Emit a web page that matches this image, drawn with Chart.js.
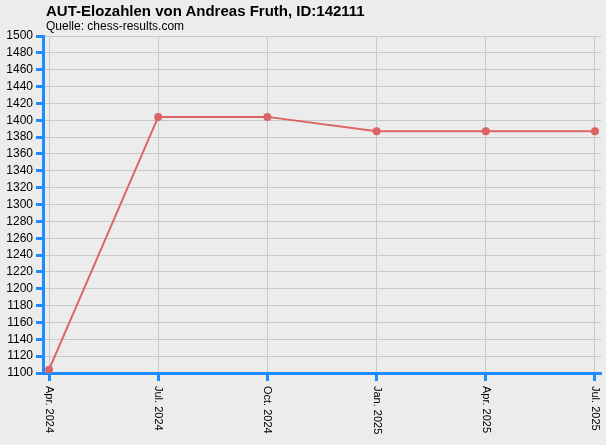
<!DOCTYPE html>
<html lang="de">
<head>
    <meta charset="UTF-8">
    <title>AUT-Elozahlen von Andreas Fruth</title>
    <style>
        html, body {
            margin: 0;
            padding: 0;
            background: #ececec;
        }
        .wrap {
            position: relative;
            width: 606px;
            height: 445px;
        }
        .title {
            position: absolute;
            left: 46px;
            top: 2px;
            font: bold 15px Arial, "Liberation Sans", sans-serif;
            color: #000;
            white-space: nowrap;
        }
        .subtitle {
            position: absolute;
            left: 46px;
            top: 19px;
            font: 12px Arial, "Liberation Sans", sans-serif;
            color: #000;
            white-space: nowrap;
        }
    </style>
</head>
<body>
    <div class="wrap">
        <canvas id="eloChart" width="606" height="445"></canvas>
        <div class="title">AUT-Elozahlen von Andreas Fruth, ID:142111</div>
        <div class="subtitle">Quelle: chess-results.com</div>
    </div>

    <script src="https://cdn.jsdelivr.net/npm/chart.js"></script>
    <script>
        const periods = ['Apr. 2024', 'Jul. 2024', 'Oct. 2024', 'Jan. 2025', 'Apr. 2025', 'Jul. 2025'];
        const eloValues = [1104, 1404, 1404, 1387, 1387, 1387];
        const yTicks = { min: 1100, max: 1500, step: 20 };

        const axisBlue = '#1e8cff';
        const gridGrey = '#c8c8c8';
        const lineRed = '#dc6464';

        // x tick labels read top-to-bottom, so draw them ourselves
        const verticalLabels = {
            id: 'verticalLabels',
            afterDraw(chart) {
                const xScale = chart.scales.x;
                const ctx = chart.ctx;
                ctx.save();
                ctx.font = '11px Arial, "Liberation Sans", sans-serif';
                ctx.fillStyle = '#000';
                ctx.textAlign = 'left';
                ctx.textBaseline = 'middle';
                periods.forEach((label, i) => {
                    const x = xScale.getPixelForValue(i);
                    ctx.save();
                    ctx.translate(x, xScale.top + 13);
                    ctx.rotate(Math.PI / 2);
                    ctx.fillText(label, 0, 0);
                    ctx.restore();
                });
                ctx.restore();
            }
        };

        const ctx = document.getElementById('eloChart').getContext('2d');
        new Chart(ctx, {
            type: 'line',
            data: {
                datasets: [{
                    label: 'Elo',
                    data: eloValues.map((v, i) => ({ x: i, y: v })),
                    borderColor: lineRed,
                    backgroundColor: lineRed,
                    borderWidth: 2,
                    pointRadius: 3,
                    pointHoverRadius: 3,
                    tension: 0
                }]
            },
            options: {
                responsive: false,
                animation: false,
                layout: {
                    padding: { top: 36, right: 5, bottom: 64, left: 0 }
                },
                plugins: {
                    legend: { display: false },
                    tooltip: { enabled: false }
                },
                scales: {
                    x: {
                        type: 'linear',
                        min: -0.055,
                        max: 5.055,
                        ticks: {
                            display: false,
                            stepSize: 1,
                            includeBounds: false
                        },
                        grid: {
                            color: gridGrey,
                            lineWidth: 1,
                            tickColor: axisBlue,
                            tickWidth: 3,
                            tickLength: 8
                        },
                        border: { color: axisBlue, width: 3 }
                    },
                    y: {
                        min: yTicks.min,
                        max: yTicks.max,
                        afterFit(scale) { scale.width = 43; },
                        ticks: {
                            stepSize: yTicks.step,
                            autoSkip: false,
                            callback: v => String(v),
                            color: '#000',
                            padding: 3,
                            font: { family: 'Arial, "Liberation Sans", sans-serif', size: 12 }
                        },
                        grid: {
                            color: gridGrey,
                            lineWidth: 1,
                            tickColor: axisBlue,
                            tickWidth: 3,
                            tickLength: 7
                        },
                        border: { color: axisBlue, width: 3 }
                    }
                }
            },
            plugins: [verticalLabels]
        });
    </script>
</body>
</html>
